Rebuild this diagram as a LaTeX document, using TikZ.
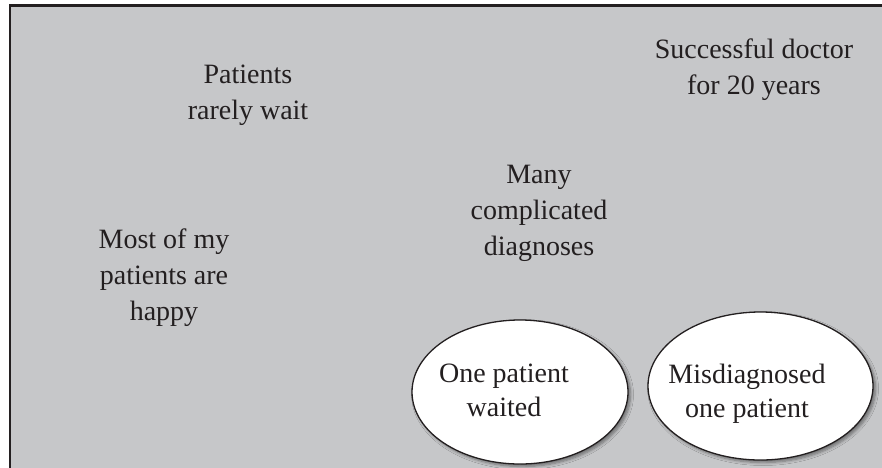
\documentclass[tikz,border=0pt]{standalone}
\usepackage{fontspec}
\setmainfont{Liberation Serif}
\usetikzlibrary{shapes.geometric,shadows.blur}
\definecolor{panelgray}{HTML}{C6C7C9}
\definecolor{inkdark}{HTML}{231F20}
\begin{document}
\begin{tikzpicture}[x=1pt,y=-1pt,
  label/.style={align=center,font=\fontsize{28}{36}\selectfont,text=inkdark,inner sep=0pt},
  inlabel/.style={label,font=\fontsize{28}{34}\selectfont},
  bubble/.style={ellipse,draw=inkdark,line width=1.3pt,fill=white,inner sep=0pt,
    blur shadow={shadow xshift=2.5pt,shadow yshift=-2.5pt,shadow blur steps=6,
      shadow blur radius=3pt,shadow opacity=45}}]
  \useasboundingbox (0,0) rectangle (882,467);
  \begin{scope}
    \clip (0,0) rectangle (882,467);
    \fill[panelgray] (10,5.5) rectangle (890,475);
    \draw[inkdark,line width=2.4pt] (9.7,475) -- (9.7,5.5) -- (890,5.5);
  \end{scope}

  \node[label] (wait) at (248,95) {Patients\\rarely wait};
  \node[label] (doctor) at (754,70) {Successful doctor\\for 20 years};
  \node[label] (diag) at (539,213) {Many\\complicated\\diagnoses};
  \node[label] (happy) at (164,278) {Most of my\\patients are\\happy};

  \node[bubble,minimum width=216pt,minimum height=144pt] (waited) at (520,392) {};
  \node[inlabel] (waitedtext) at (504,390.5) {One patient\\waited};
  \node[bubble,minimum width=225pt,minimum height=148pt] (misdiag) at (760.5,386) {};
  \node[inlabel] (misdiagtext) at (747,393.5) {Misdiagnosed\\one patient};
\end{tikzpicture}
\end{document}
